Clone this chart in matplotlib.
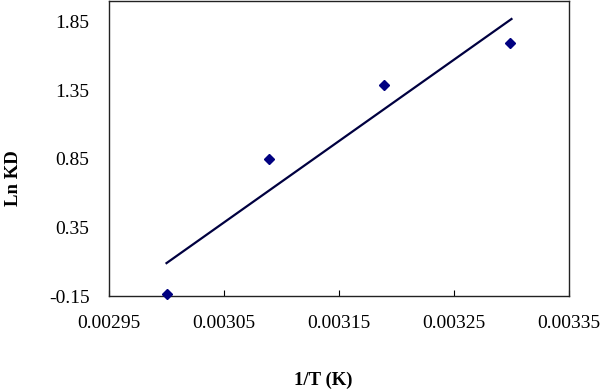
import matplotlib
matplotlib.use('Agg')
import matplotlib.pyplot as plt

# данные
inv_t = [0.0030, 0.003089, 0.003189, 0.003299]   # 1/T
ln_kd = [-0.133, 0.85, 1.388, 1.692]             # Ln KD

# линия тренда (концы)
trend_x = [0.0030, 0.0033]
trend_y = [0.09, 1.87]

x_ticks = [0.00295, 0.00305, 0.00315, 0.00325, 0.00335]
y_ticks = [-0.15, 0.35, 0.85, 1.35, 1.85]

plt.rcParams['font.family'] = 'Liberation Serif'

fig = plt.figure(figsize=(6, 3.89), dpi=100)
ax = fig.add_axes([0.1817, 0.239, 0.7666, 0.758])

ax.plot(trend_x, trend_y, color='#000040', lw=1.6, zorder=2)
ax.plot(inv_t, ln_kd, 'D', color='#000080', markersize=5, zorder=3, clip_on=False)

ax.set_xlim(0.00295, 0.00335)
ax.set_ylim(-0.15, 2.0)
ax.set_xticks(x_ticks)
ax.set_xticklabels([f'{v:.5f}' for v in x_ticks])
ax.set_yticks(y_ticks)
ax.set_yticklabels([f'{v:.2f}' for v in y_ticks])

ax.tick_params(axis='x', direction='in', length=4, pad=14, labelsize=14)
ax.tick_params(axis='y', length=0, pad=14, labelsize=14)

for s in ax.spines.values():
    s.set_linewidth(1.0)
    s.set_color('#222222')

ax.set_xlabel('1/T (K)', fontsize=13.5, fontweight='bold')
ax.set_ylabel('Ln KD', fontsize=13.5, fontweight='bold')
ax.xaxis.set_label_coords(0.465, -0.255)
ax.yaxis.set_label_coords(-0.19, 0.40)

fig.savefig('out.png', dpi=100)
